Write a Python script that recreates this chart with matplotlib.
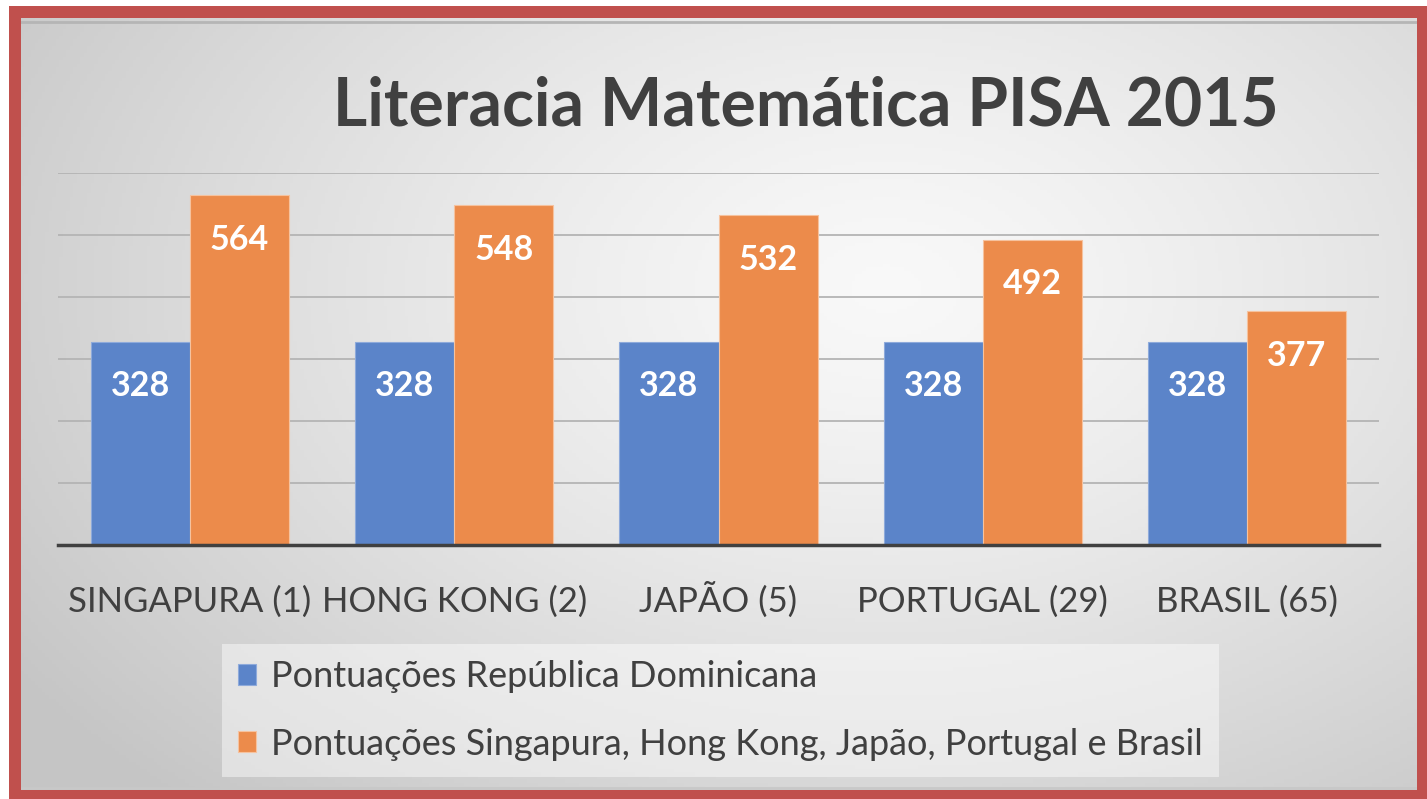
import numpy as np
import matplotlib
matplotlib.use("Agg")
from matplotlib import pyplot as plt

plt.rcParams['font.family'] = ['Lato', 'DejaVu Sans']

# data
paises = ['SINGAPURA (1)', 'HONG KONG (2)', 'JAPÃO (5)', 'PORTUGAL (29)', 'BRASIL (65)']
rep_dominicana = [328, 328, 328, 328, 328]
outros = [564, 548, 532, 492, 377]
serie_labels = ['Pontuações República Dominicana',
                'Pontuações Singapura, Hong Kong, Japão, Portugal e Brasil']
titulo = 'Literacia Matemática PISA 2015'

W, H = 1427, 799
fig = plt.figure(figsize=(W / 100, H / 100), dpi=100)
fig.patch.set_facecolor('white')

# red frame (behind everything)
frame = fig.add_axes([9 / W, 0, (W - 9) / W, 1 - 6 / H], zorder=-2)
frame.set_facecolor('#c0504d')
frame.set_xticks([])
frame.set_yticks([])
for s in frame.spines.values():
    s.set_visible(False)

# gray radial gradient panel
bg = fig.add_axes([21 / W, 9 / H, (1417 - 21) / W, (790 - 18) / H], zorder=-1)
gx, gy = np.meshgrid(np.linspace(0, 1, 400), np.linspace(0, 1, 220))
r = np.sqrt(((gx - 0.62) / 0.75) ** 2 + ((gy - 0.35) / 0.9) ** 2)
val = 0.975 - 0.2 * np.clip(r, 0, 1.0) ** 1.3
bg.imshow(np.dstack([val, val, val]), aspect='auto', extent=(0, 1, 1, 0))
bg.axhline(0.005, color='#b5b5b5', lw=2)
bg.axhline(0.997, color='#c8c8c8', lw=2)
bg.set_xlim(0, 1)
bg.set_ylim(1, 0)
bg.axis('off')

ax = fig.add_axes([58 / W, 1 - 545 / H, (1379 - 58) / W, (545 - 173) / H], zorder=2)
ax.set_facecolor('none')

x = np.arange(len(paises))
w = 0.375
b1 = ax.bar(x - w / 2, rep_dominicana, w, color='#5b84c9', edgecolor='#8eaadb', lw=0.8,
            label=serie_labels[0], zorder=3)
b2 = ax.bar(x + w / 2, outros, w, color='#ec8b4b', edgecolor='#f6c29e', lw=0.8,
            label=serie_labels[1], zorder=3)

for xi, v in zip(x - w / 2, rep_dominicana):
    ax.annotate(str(v), (xi, v), xytext=(0, -32), textcoords='offset points',
                ha='center', va='center', color='white', fontsize=24.5, fontweight='bold', zorder=4)
for xi, v in zip(x + w / 2, outros):
    ax.annotate(str(v), (xi, v), xytext=(0, -32), textcoords='offset points',
                ha='center', va='center', color='white', fontsize=24.5, fontweight='bold', zorder=4)

ax.set_xlim(-0.5, len(paises) - 0.5)
ax.set_ylim(0, 600)
ax.set_yticks(np.arange(100, 601, 100))
ax.yaxis.grid(True, color='#b4b4b4', lw=1.3, zorder=1)
ax.set_yticklabels([])
ax.tick_params(axis='y', length=0)
ax.set_xticks(x)
ax.set_xticklabels(paises, fontsize=25, color='#404040', va='baseline')
ax.tick_params(axis='x', length=0, pad=48)
for s in ['top', 'right', 'left']:
    ax.spines[s].set_visible(False)
ax.spines['bottom'].set_color('#404040')
ax.spines['bottom'].set_linewidth(2.5)
ax.spines['bottom'].set_zorder(5)

fig.text(806 / W, 1 - 107 / H, titulo, ha='center', va='center', fontsize=47.5,
         fontweight='bold', color='#404040', zorder=5)

leg = fig.legend(handles=[b1, b2], loc='upper left', bbox_to_anchor=(222 / W, 1 - 644 / H),
                 fontsize=26, frameon=True, fancybox=False, handlelength=0.5,
                 handleheight=0.5, handletextpad=0.4, labelspacing=0.95,
                 borderpad=0.45, borderaxespad=0)
leg.get_frame().set_facecolor('white')
leg.get_frame().set_alpha(0.45)
leg.get_frame().set_edgecolor('none')
for t in leg.get_texts():
    t.set_color('#404040')

fig.savefig('out.png', dpi=100)
